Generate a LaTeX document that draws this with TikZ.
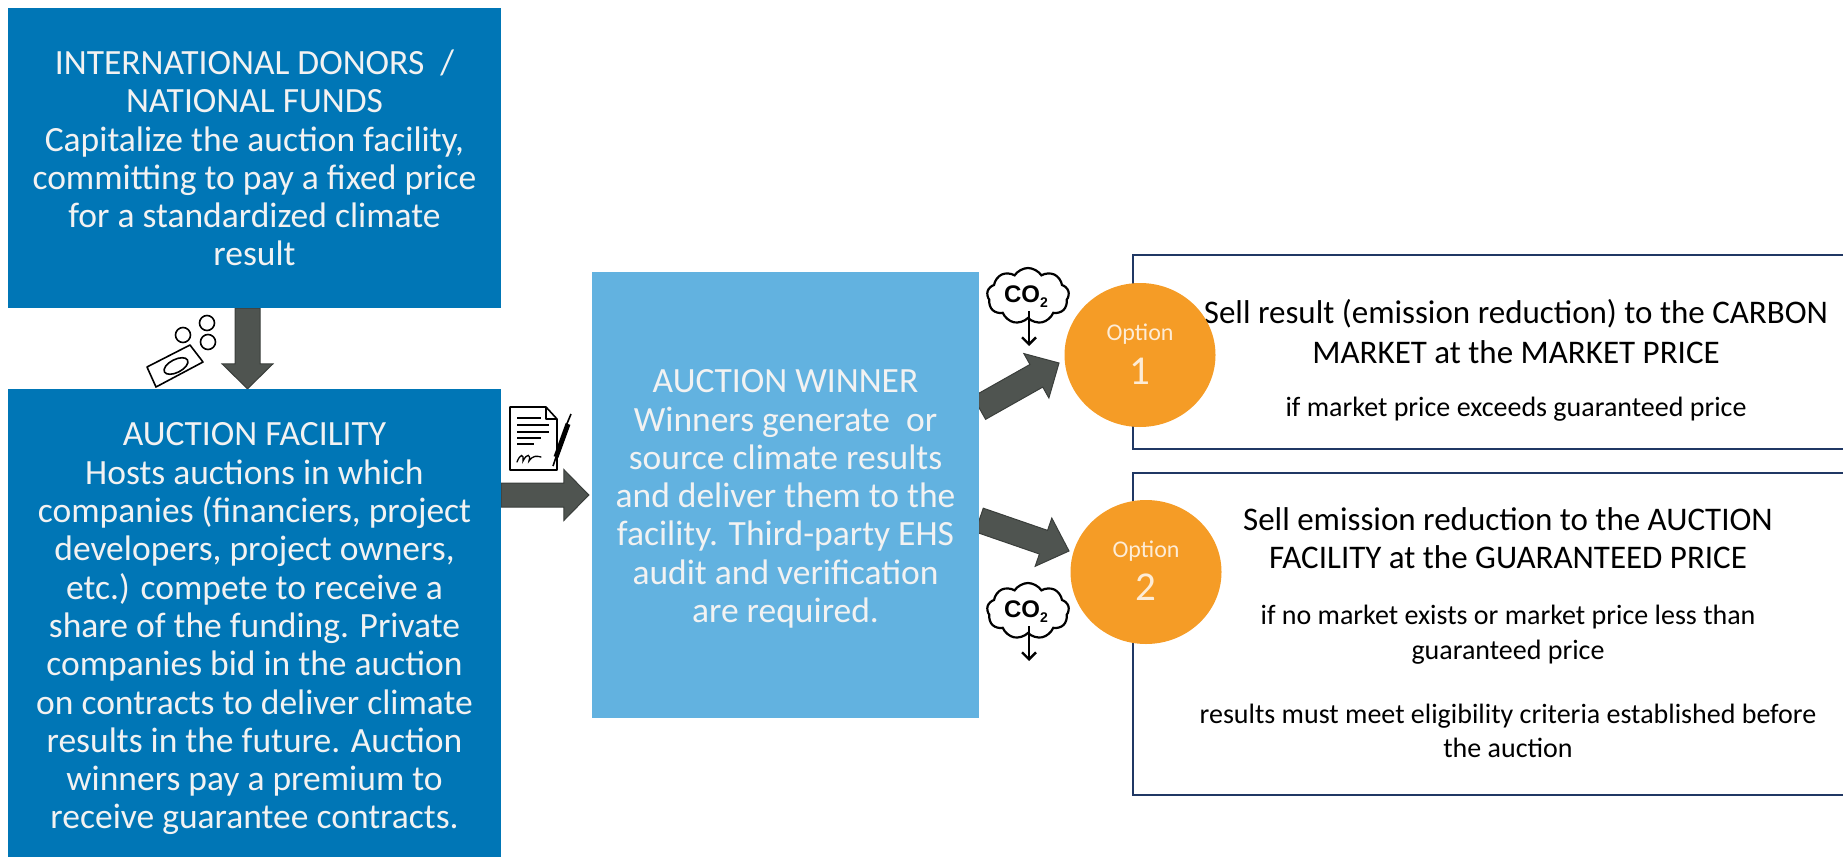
\documentclass[tikz,border=0pt]{standalone}
\usepackage{fontspec}
\setmainfont{Carlito}
\newfontfamily\cofont{Liberation Sans}
\usetikzlibrary{calc,shapes.geometric,shapes.symbols,arrows.meta}
\pgfdeclarelayer{bg}
\pgfsetlayers{bg,main}
\definecolor{darkblue}{RGB}{0,118,182}
\definecolor{lightblue}{RGB}{98,178,224}
\definecolor{boxtext}{RGB}{242,242,242}
\definecolor{orng}{RGB}{245,156,38}
\definecolor{arrowfill}{RGB}{79,84,80}
\definecolor{arrowline}{RGB}{58,62,59}
\definecolor{navy}{RGB}{32,56,100}
\definecolor{opttext}{RGB}{253,236,214}
\tikzset{
 bluebox/.style={rectangle, fill=darkblue, text=boxtext, inner sep=0pt, align=center, font=\fontsize{35.5}{38.3}\selectfont},
 winbox/.style={bluebox, fill=lightblue},
 boxtxt/.style={inner sep=0pt, text=boxtext, align=center, font=\fontsize{35.5}{38.3}\selectfont},
 optbox/.style={rectangle, draw=navy, line width=2pt, fill=white, inner sep=0pt},
 maintext/.style={anchor=base, inner sep=0pt, text=black, font=\fontsize{33}{40}\selectfont},
 subtext/.style={anchor=base, inner sep=0pt, text=black, font=\fontsize{28}{33}\selectfont},
 optcircle/.style={ellipse, fill=orng, minimum width=151pt, minimum height=144pt, inner sep=0pt},
 optword/.style={anchor=base, inner sep=0pt, text=opttext, font=\fontsize{24}{24}\selectfont},
 optnum/.style={anchor=base, inner sep=0pt, text=opttext, font=\fontsize{41}{41}\selectfont},
 blockarrow/.style={fill=arrowfill, draw=arrowline, line width=1pt, line join=miter},
 icon/.style={draw=black, line width=1.6pt, fill=white, line join=round},
 co2cloud/.style={cloud, cloud puffs=9, cloud puff arc=115, aspect=1.45, draw=black, line width=2.2pt, fill=white, minimum width=82pt, minimum height=56pt, inner sep=0pt},
 co2text/.style={inner sep=0pt, font=\cofont\bfseries\fontsize{24}{24}\selectfont},
 co2arrow/.style={line width=2.4pt, -{Straight Barb[length=7pt,width=14pt]}},
}
\newcommand\blockarr[5]{%
 \path ($(#2)!#5!(#1)$) coordinate (bahead);
 \filldraw[blockarrow] ($(#1)!#3!90:(#2)$) -- ($(bahead)!#3!90:(#2)$) -- ($(bahead)!#4!90:(#2)$) -- (#2) -- ($(bahead)!#4!-90:(#2)$) -- ($(bahead)!#3!-90:(#2)$) -- ($(#1)!#3!-90:(#2)$) -- cycle;}
\begin{document}
\begin{tikzpicture}[x=1pt,y=-1pt]
\useasboundingbox (0,0) rectangle (1843,859);
\clip (0,0) rectangle (1843,859);
% main boxes
\node[bluebox, minimum width=493pt, minimum height=300pt] (donors) at (254.5,158)
 {INTERNATIONAL DONORS \ /\\NATIONAL FUNDS\\Capitalize the auction facility,\\committing to pay a fixed price\\for a standardized climate\\result};
\node[bluebox, minimum width=493pt, minimum height=468pt] (facility) at (254.5,623) {};
\node[boxtxt] (factext) at (254.5,629)
 {AUCTION FACILITY\\Hosts auctions in which\\companies (financiers, project\\developers, project owners,\\etc.) compete to receive a\\share of the funding. Private\\companies bid in the auction\\on contracts to deliver climate\\results in the future. Auction\\winners pay a premium to\\receive guarantee contracts.};
\node[winbox, minimum width=387pt, minimum height=446pt] (winner) at (785.5,495) {};
\node[boxtxt] (wintext) at (785.5,499)
 {AUCTION WINNER\\Winners generate\ \ or\\source climate results\\and deliver them to the\\facility. Third-party EHS\\audit and verification\\are required.};
% option boxes
\node[optbox, minimum width=717pt, minimum height=194pt] (box1) at (1491.5,352) {};
\node[optbox, minimum width=717pt, minimum height=322pt] (box2) at (1491.5,634) {};
\node[maintext] (b1l1) at (1516,323) {Sell result (emission reduction) to the CARBON};
\node[maintext] (b1l2) at (1516,363) {MARKET at the MARKET PRICE};
\node[subtext] (b1l3) at (1516,416) {if market price exceeds guaranteed price};
\node[maintext] (b2l1) at (1508,530) {Sell emission reduction to the AUCTION};
\node[maintext] (b2l2) at (1508,568) {FACILITY at the GUARANTEED PRICE};
\node[subtext] (b2l3) at (1508,624) {if no market exists or market price less than};
\node[subtext] (b2l4) at (1508,659) {guaranteed price};
\node[subtext] (b2l5) at (1508,723) {results must meet eligibility criteria established before};
\node[subtext] (b2l6) at (1508,757) {the auction};
% option circles
\node[optcircle] (opt1) at (1140,355) {};
\node[optword] (o1w) at (1140,340) {Option};
\node[optnum] (o1n) at (1140,384) {1};
\node[optcircle] (opt2) at (1146,572) {};
\node[optword] (o2w) at (1146,557) {Option};
\node[optnum] (o2n) at (1146,600) {2};
% arrow end points
\coordinate (a1s) at ($(donors.south)+(-7,0)$);
\coordinate (a1e) at ($(facility.north)+(-7,0)$);
\coordinate (a2s) at (facility.east |- winner.west);
\coordinate (a2e) at ($(winner.west)+(-3,0)$);
\coordinate (a3s) at ($(winner.east)+(0,-87)$);
\coordinate (a3e) at ($(opt1.center)+(-81,8)$);
\coordinate (a4s) at ($(winner.east)+(0,25)$);
\coordinate (a4e) at ($(opt2.center)+(-77,-21)$);
\begin{pgfonlayer}{bg}
\blockarr{a1s}{a1e}{12.5pt}{25.5pt}{25pt}
\blockarr{a2s}{a2e}{12pt}{25.5pt}{25pt}
\blockarr{a3s}{a3e}{13pt}{25.5pt}{26pt}
\blockarr{a4s}{a4e}{12.5pt}{25.5pt}{27pt}
\end{pgfonlayer}
% money icon
\draw[icon] (147,367) -- (190,345) -- (203,362) -- (156,387) -- cycle;
\draw[icon, rotate around={27:(176,366)}] (176,366) ellipse [x radius=13, y radius=6.5];
\draw[icon] (207,323) circle [radius=7.5];
\draw[icon] (183,335) circle [radius=7.5];
\draw[icon] (208,342) circle [radius=7.5];
% document icon
\draw[icon] (510,407) -- (546,407) -- (557,419) -- (557,470) -- (510,470) -- cycle;
\draw[icon, fill=none] (546,407) -- (546,419) -- (557,419);
\draw[line width=2pt] (517,418) -- (541,418) (517,425) -- (549,425) (517,432) -- (549,432) (517,438) -- (541,438) (517,444) -- (534,444);
\draw[line width=1.3pt, line cap=round] (517,462) .. controls (520,454) and (524,453) .. (523,461) .. controls (527,453) and (531,454) .. (529,461) .. controls (533,455) and (537,456) .. (541,457);
\draw[line width=5pt] (556,457) -- (568,424);
\draw[line width=1.6pt] (556,457) -- (553,466);
\draw[line width=1.6pt] (566,426) -- (571,414);
% CO2 icons
\node[co2cloud] (cloud1) at (1028,296) {};
\node[co2text] (co1) at (1026,297) {CO\raisebox{-5pt}{\fontsize{14}{14}\selectfont 2}};
\draw[co2arrow] (1029,311) -- (1029,346);
\node[co2cloud] (cloud2) at (1028,611) {};
\node[co2text] (co2) at (1026,612) {CO\raisebox{-5pt}{\fontsize{14}{14}\selectfont 2}};
\draw[co2arrow] (1029,626) -- (1029,661);
\end{tikzpicture}
\end{document}
